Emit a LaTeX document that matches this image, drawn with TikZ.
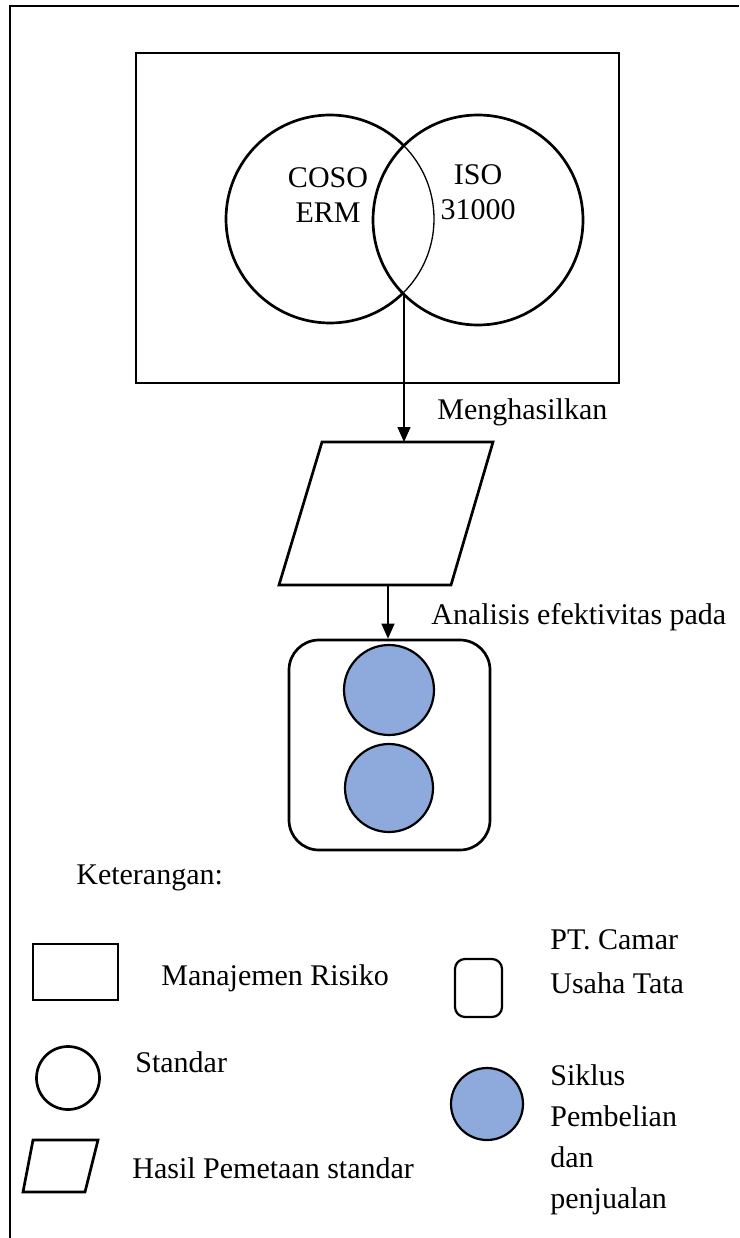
\documentclass[tikz,border=0pt]{standalone}
\usepackage{fontspec}
\setmainfont{Liberation Serif}
\usetikzlibrary{arrows.meta,positioning,calc}
\definecolor{siklusblue}{RGB}{142,169,219}

\begin{document}
\begin{tikzpicture}[x=1pt, y=-1pt, line width=2.7pt,
  every node/.style={font=\fontsize{30}{35}\selectfont, inner sep=0pt},
  rmbox/.style={draw, rectangle},
  stdcirc/.style={draw, circle},
  ptbox/.style={draw, rectangle, rounded corners=#1},
  ptbox/.default=30pt,
  cyclecirc/.style={draw, circle, fill=siklusblue, line width=2.2pt},
  flow/.style={-{Triangle[length=15pt,width=13pt]}, line width=1.3pt}]
  \useasboundingbox (0,0) rectangle (739,1238);
  % bingkai luar (terpotong)
  \draw (10,1238) -- (10,6) -- (739,6);

  % manajemen risiko + standar
  \node[rmbox, minimum width=483, minimum height=330] (rm) at (377.5,218) {};
  \node[stdcirc, minimum size=208] (coso) at (330,219) {};
  \node[stdcirc, fill=white, minimum size=210] (iso) at (478,220) {};
  \begin{scope}
    \clip (iso.center) circle (105pt);
    \draw[line width=1.3pt] (coso.center) circle (104pt);
  \end{scope}
  \node[align=center] (cosotxt) at (328,195) {COSO\\ERM};
  \node[align=center] (isotxt) at (478,192) {ISO\\31000};

  % hasil pemetaan
  \coordinate (lensbot) at (404,293);
  \coordinate (hasiltop) at (404,442);
  \coordinate (hasilbot) at (388,585);
  \draw (322,442) -- (493,442) -- (451,585) -- (279,585) -- cycle;
  \draw[flow] (lensbot) -- (hasiltop);
  \node[anchor=west] (hasilkan) at (436,412) {Menghasilkan};

  % PT dan siklus
  \node[ptbox, minimum width=201, minimum height=210] (pt) at (389.5,745) {};
  \node[cyclecirc, minimum size=90] (beli) at (389,690) {};
  \node[cyclecirc, minimum size=88] (jual) at (389,788) {};
  \draw[flow] (hasilbot) -- (hasilbot |- pt.north);
  \node[anchor=west] (analisis) at (430,617) {Analisis efektivitas pada};

  % keterangan
  \node[anchor=west] (ket) at (75,878) {Keterangan:};
  \node[rmbox, minimum width=85, minimum height=56] (lgrm) at (75.5,972) {};
  \node[anchor=west] (lgrmtxt) at (160,978) {Manajemen Risiko};
  \node[stdcirc, minimum size=63] (lgstd) at (68,1078) {};
  \node[anchor=west] (lgstdtxt) at (134,1062) {Standar};
  \draw (33,1140) -- (98,1140) -- (85,1192) -- (23,1192) -- cycle;
  \node[anchor=west] (lghasil) at (131,1168) {Hasil Pemetaan standar};
  \node[ptbox=10pt, line width=2.2pt, minimum width=47, minimum height=58] (lgpt) at (478.5,988) {};
  \node[anchor=west, align=left, font=\fontsize{30}{44}\selectfont] (lgpttxt) at (549,962) {PT. Camar\\Usaha Tata};
  \node[cyclecirc, minimum size=72] (lgsik) at (487,1104) {};
  \node[anchor=west, align=left, font=\fontsize{30}{41}\selectfont] (lgsiktxt) at (549,1140) {Siklus\\Pembelian\\dan\\penjualan};
\end{tikzpicture}
\end{document}
